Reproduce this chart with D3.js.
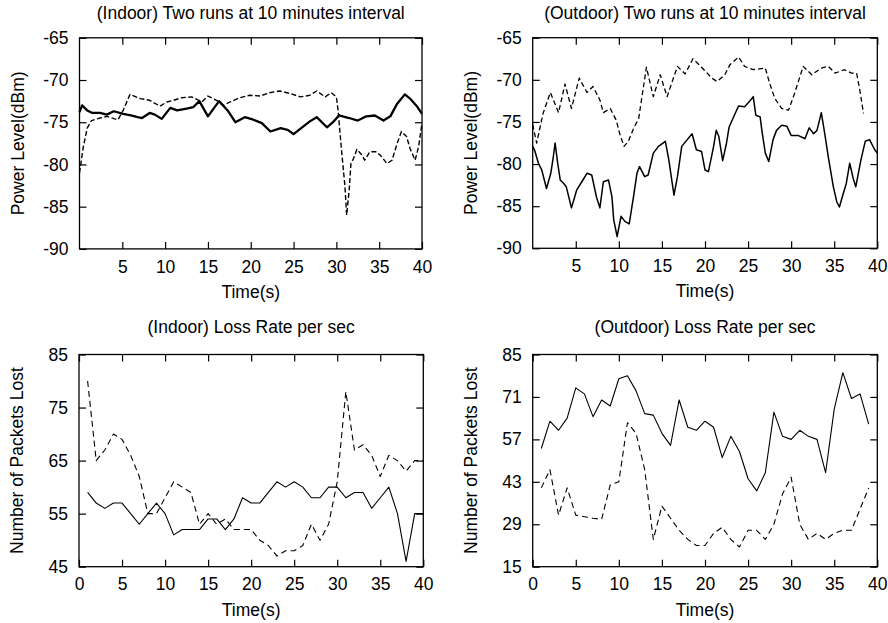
<!DOCTYPE html>
<html><head><meta charset="utf-8">
<script src="https://cdn.jsdelivr.net/npm/d3@7"></script>
<style>
body{margin:0;background:#fff}
svg text{font-family:"Liberation Sans",Arial,Helvetica,sans-serif;fill:#000}
</style>
</head><body>
<svg id="c" width="888" height="623"></svg>
<script>
// ---------- DATA ----------
const titles = [
  "(Indoor) Two runs at 10 minutes interval",
  "(Outdoor) Two runs at 10 minutes interval",
  "(Indoor) Loss Rate per sec",
  "(Outdoor) Loss Rate per sec"
];
const xLabel = "Time(s)";
const yLabelPower = "Power Level(dBm)";
const yLabelLoss = "Number of Packets Lost";

const powerXTicks = [5, 10, 15, 20, 25, 30, 35, 40];
const lossXTicks = [0, 5, 10, 15, 20, 25, 30, 35, 40];
const powerYTicks = [-65, -70, -75, -80, -85, -90];
const indoorLossYTicks = [45, 55, 65, 75, 85];
const outdoorLossYTicks = [15, 29, 43, 57, 71, 85];

// Indoor power, run 1 (solid) : [time s, dBm]
const indoorPowerRun1 = [[0,-73.8],[0.3,-73.0],[0.9,-73.6],[1.5,-73.9],[2.4,-73.9],[3.2,-74.1],[4.0,-73.7],[5.1,-74.0],[6.0,-74.2],[6.8,-74.4],[7.3,-74.5],[8.2,-73.9],[8.8,-74.1],[9.6,-74.6],[10.6,-73.3],[11.4,-73.6],[12.5,-73.4],[13.3,-73.2],[14.0,-72.5],[15.0,-74.3],[16.3,-72.5],[17.3,-73.6],[18.2,-75.0],[19.3,-74.4],[20.3,-74.7],[21.3,-75.1],[22.3,-76.1],[23.5,-75.7],[24.3,-75.9],[25.0,-76.4],[26.0,-75.6],[26.9,-74.9],[27.7,-74.4],[28.9,-75.6],[29.6,-75.0],[30.3,-74.2],[31.5,-74.5],[32.5,-74.8],[33.5,-74.3],[34.5,-74.2],[35.5,-74.8],[36.3,-74.3],[37.1,-72.8],[38.0,-71.7],[38.6,-72.2],[39.4,-73.1],[40,-74.0]];
// Indoor power, run 2 (dashed)
const indoorPowerRun2 = [[0,-81.0],[0.45,-77.9],[0.9,-75.7],[1.4,-74.8],[2.4,-74.5],[3.2,-74.3],[4.1,-74.6],[4.5,-74.7],[5.1,-73.6],[5.9,-71.7],[7.1,-72.2],[8.2,-72.4],[9.4,-73.1],[10.2,-72.6],[11.0,-72.4],[11.9,-72.1],[13.1,-72.0],[14.3,-72.6],[15.0,-71.9],[16.0,-72.4],[16.8,-73.0],[17.6,-72.6],[18.7,-72.1],[19.9,-71.8],[21.1,-71.9],[22.2,-71.5],[23.4,-71.3],[24.6,-71.6],[25.8,-72.0],[26.9,-71.8],[27.7,-71.3],[28.7,-72.0],[29.4,-71.5],[30.0,-72.0],[30.2,-73.6],[30.6,-78.3],[31.0,-82.6],[31.2,-86.0],[31.5,-83.0],[31.7,-79.9],[32.0,-79.3],[32.4,-78.2],[33.0,-78.9],[33.3,-79.5],[33.9,-78.5],[34.7,-78.5],[35.3,-79.1],[35.9,-79.9],[36.5,-79.5],[37.1,-77.5],[37.6,-76.1],[38.2,-76.7],[38.6,-78.1],[39.2,-79.5],[39.6,-77.9],[40,-75.1]];

// Outdoor power, run 1 (solid)
const outdoorPowerRun1 = [[0,-77.9],[0.27,-78.5],[0.66,-79.9],[1.05,-80.7],[1.4,-82.1],[1.6,-82.9],[2.1,-81.1],[2.4,-79.1],[2.6,-77.5],[2.9,-79.9],[3.2,-81.9],[3.6,-82.3],[3.9,-82.7],[4.5,-85.2],[5.1,-83.1],[5.7,-82.1],[6.3,-81.1],[6.85,-81.3],[7.4,-83.9],[7.8,-85.2],[8.2,-82.1],[8.8,-81.9],[9.2,-83.9],[9.4,-86.6],[9.8,-88.6],[10.25,-86.2],[10.7,-86.8],[11.2,-87.1],[11.7,-83.9],[12.1,-81.1],[12.4,-80.3],[13.0,-81.5],[13.4,-81.3],[14.0,-78.7],[14.6,-77.9],[15.4,-77.3],[15.8,-79.5],[16.4,-83.7],[16.8,-81.5],[17.3,-77.9],[18.5,-76.4],[19.0,-78.3],[19.6,-78.5],[20.0,-80.7],[20.4,-80.9],[21.0,-77.9],[21.3,-76.0],[21.6,-76.7],[22.05,-79.6],[22.5,-77.5],[22.8,-75.6],[23.5,-74.0],[23.9,-73.1],[24.6,-73.2],[25.3,-72.4],[25.6,-72.0],[25.9,-74.2],[26.4,-74.4],[26.6,-76.0],[27.0,-78.7],[27.4,-79.7],[27.9,-77.1],[28.3,-76.0],[28.9,-75.4],[29.5,-75.5],[30.0,-76.6],[30.8,-76.6],[31.6,-77.0],[32.1,-75.7],[32.6,-76.4],[33.0,-76.0],[33.5,-73.9],[33.9,-76.4],[34.3,-79.1],[34.9,-82.7],[35.3,-84.5],[35.6,-85.1],[36.05,-83.5],[36.4,-82.3],[36.8,-79.9],[37.2,-81.7],[37.5,-82.7],[38.1,-79.5],[38.6,-77.3],[39.1,-77.1],[39.7,-78.3],[40,-78.7]];
// Outdoor power, run 2 (dashed)
const outdoorPowerRun2 = [[0,-75.3],[0.46,-77.5],[1.2,-74.0],[2.05,-71.5],[3.0,-73.9],[3.75,-70.5],[4.5,-73.4],[5.4,-69.8],[6.3,-71.5],[7.0,-70.8],[7.8,-72.4],[8.2,-73.9],[9.0,-73.4],[9.7,-74.8],[10.1,-76.4],[10.6,-77.9],[11.1,-77.3],[11.7,-75.8],[12.3,-74.6],[13.2,-68.5],[14.0,-72.0],[14.8,-69.4],[15.6,-72.0],[16.8,-68.4],[17.7,-69.3],[18.6,-67.5],[19.6,-68.5],[20.8,-69.8],[21.4,-70.2],[22.3,-69.4],[22.9,-68.2],[23.9,-67.3],[24.6,-68.4],[25.6,-68.8],[27.0,-68.6],[27.5,-70.4],[28.1,-72.2],[28.9,-73.4],[29.7,-73.6],[30.4,-71.6],[31.4,-68.4],[32.4,-69.4],[33.5,-68.6],[34.3,-68.4],[35.1,-69.2],[36.2,-68.8],[37.0,-69.2],[37.6,-69.2],[38.0,-71.4],[38.4,-74.0]];

// Loss per second (t = 1..40 / 1..39)
const indoorLossTime = d3.range(1, 41);
const indoorLossRun1 = [59,57,56,57,57,55,53,55,57,55,51,52,52,52,54,54,52,54,58,57,57,59,61,60,61,60,58,58,60,60,58,59,59,56,58,60,55,46,55,55];
const indoorLossRun2 = [80,65,67,70,69,66,62,55,55,58,61,60,59,53,55,53,54,52,52,52,50,49,47,48,48,49,53,50,53,61,78,67,68,66,62,66,65,63,65,65];
const outdoorLossTime = d3.range(1, 40);
const outdoorLossRun1 = [54,63,60,64,74,72,64.5,70,68,77,78,73,65.5,65,59,55,70,61,60,63,61,51,58,53,44,40,46,66,58,57,60,58,57,46,67,79,70.5,72,62];
const outdoorLossRun2 = [41,47,32,41,32,31.5,31,30.6,42,43,62.5,59,47,24,35,31,27,24,22,22,26,28,24,21.5,27,27,24,29,39,44.5,29,24,26,24,26,27,27,34,41];

// ---------- DRAW ----------
const svg = d3.select("#c");
const FS = 17.5;
const fmt = d => String(d);   // plain hyphen-minus like the original

const panels = [
  {title: titles[0], left: 79.5, right: 422, top: 37.8, bottom: 248.9, titleY: 19,
   yDomain: [-90, -65], yTicks: powerYTicks, xTicks: powerXTicks, yLabel: yLabelPower,
   series: [
     {data: indoorPowerRun1, width: 2.3, dash: null},
     {data: indoorPowerRun2, width: 1.4, dash: "5,2.5"}
   ]},
  {title: titles[1], left: 532.7, right: 877.3, top: 37.7, bottom: 248.3, titleY: 19,
   yDomain: [-90, -65], yTicks: powerYTicks, xTicks: powerXTicks, yLabel: yLabelPower,
   series: [
     {data: outdoorPowerRun1, width: 1.5, dash: null},
     {data: outdoorPowerRun2, width: 1.3, dash: "5,3"}
   ]},
  {title: titles[2], left: 79, right: 423.3, top: 354.5, bottom: 566.7, titleY: 333,
   yDomain: [45, 85], yTicks: indoorLossYTicks, xTicks: lossXTicks, yLabel: yLabelLoss,
   series: [
     {data: indoorLossTime.map((t, i) => [t, indoorLossRun1[i]]), width: 1.1, dash: null},
     {data: indoorLossTime.map((t, i) => [t, indoorLossRun2[i]]), width: 1.1, dash: "6,4"}
   ]},
  {title: titles[3], left: 532.7, right: 877.3, top: 354.5, bottom: 566.7, titleY: 333,
   yDomain: [15, 85], yTicks: outdoorLossYTicks, xTicks: lossXTicks, yLabel: yLabelLoss,
   series: [
     {data: outdoorLossTime.map((t, i) => [t, outdoorLossRun1[i]]), width: 1.1, dash: null},
     {data: outdoorLossTime.map((t, i) => [t, outdoorLossRun2[i]]), width: 1.1, dash: "6,4"}
   ]}
];

function styleAxis(sel, showLabels) {
  sel.select(".domain").remove();
  sel.selectAll(".tick line").attr("stroke", "#000").attr("stroke-width", 1.2);
  sel.selectAll("text").attr("font-size", FS)
     .attr("font-family", '"Liberation Sans",Arial,Helvetica,sans-serif')
     .attr("fill", "#000");
  if (!showLabels) sel.selectAll("text").remove();
  sel.attr("font-size", null).attr("font-family", null);
}

panels.forEach(p => {
  const x = d3.scaleLinear().domain([0, 40]).range([p.left, p.right]);
  const y = d3.scaleLinear().domain(p.yDomain).range([p.bottom, p.top]);
  const g = svg.append("g");

  g.append("g").attr("transform", `translate(0,${p.bottom})`)
    .call(d3.axisBottom(x).tickValues(p.xTicks).tickSize(-7).tickPadding(11.2).tickFormat(fmt))
    .call(s => styleAxis(s, true));
  g.append("g").attr("transform", `translate(0,${p.top})`)
    .call(d3.axisTop(x).tickValues(p.xTicks).tickSize(-7))
    .call(s => styleAxis(s, false));
  g.append("g").attr("transform", `translate(${p.left},0)`)
    .call(d3.axisLeft(y).tickValues(p.yTicks).tickSize(-7).tickPadding(11).tickFormat(fmt))
    .call(s => styleAxis(s, true));
  g.append("g").attr("transform", `translate(${p.right},0)`)
    .call(d3.axisRight(y).tickValues(p.yTicks).tickSize(-7))
    .call(s => styleAxis(s, false));

  const line = d3.line().x(d => x(d[0])).y(d => y(d[1]));
  p.series.forEach(s => {
    g.append("path").datum(s.data)
      .attr("d", line)
      .attr("fill", "none")
      .attr("stroke", "#000")
      .attr("stroke-width", s.width)
      .attr("stroke-linejoin", "round")
      .attr("stroke-dasharray", s.dash);
  });

  g.append("rect")
    .attr("x", p.left).attr("y", p.top)
    .attr("width", p.right - p.left).attr("height", p.bottom - p.top)
    .attr("fill", "none").attr("stroke", "#000").attr("stroke-width", 1.3);

  const cx = (p.left + p.right) / 2;
  g.append("text").attr("x", cx).attr("y", p.titleY)
    .attr("text-anchor", "middle").attr("font-size", FS).text(p.title);
  g.append("text").attr("x", cx).attr("y", p.bottom + 49)
    .attr("text-anchor", "middle").attr("font-size", FS).text(xLabel);
  const cy = (p.top + p.bottom) / 2;
  g.append("text")
    .attr("transform", `translate(${p.left - 56},${cy}) rotate(-90)`)
    .attr("text-anchor", "middle").attr("font-size", FS).text(p.yLabel);
});
</script>
</body></html>
